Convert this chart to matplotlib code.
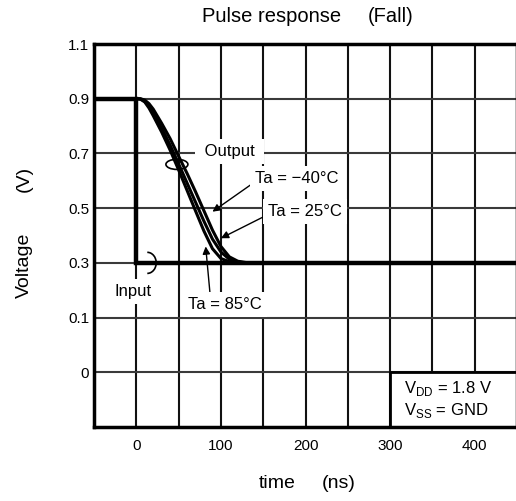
import matplotlib
matplotlib.use("Agg")
import matplotlib.pyplot as plt
from matplotlib.patches import Ellipse, Arc, Rectangle

plt.rcParams['font.family'] = ['Liberation Sans', 'DejaVu Sans']

# input pulse (falls at t = 0)
t_in = [-50, 0, 0, 460]
v_in = [0.9, 0.9, 0.3, 0.3]

# output curves
t_out = [-50, 0, 5, 10, 15, 20, 25, 30, 40, 50, 60, 70, 80, 90, 100, 110, 120, 130, 140, 460]
v_fast = [0.9, 0.9, 0.898, 0.888, 0.866, 0.838, 0.808, 0.778, 0.712, 0.64, 0.565, 0.49, 0.416, 0.352, 0.316, 0.304, 0.3, 0.3, 0.3, 0.3]
v_mid = [0.9, 0.9, 0.899, 0.891, 0.873, 0.848, 0.82, 0.792, 0.73, 0.662, 0.592, 0.522, 0.452, 0.387, 0.34, 0.313, 0.303, 0.3, 0.3, 0.3]
v_slow = [0.9, 0.9, 0.9, 0.895, 0.882, 0.862, 0.836, 0.81, 0.754, 0.69, 0.627, 0.56, 0.49, 0.42, 0.36, 0.322, 0.306, 0.301, 0.3, 0.3]

x_ticks = [0, 100, 200, 300, 400]
y_ticks = [1.1, 0.9, 0.7, 0.5, 0.3, 0.1, -0.1]
y_labels = ['1.1', '0.9', '0.7', '0.5', '0.3', '0.1', '0']

fig = plt.figure(figsize=(5.16, 5.01), dpi=100)
ax = fig.add_axes([94/516, 74/501, 423/516, 383/501])
ax.set_xlim(-50, 450)
ax.set_ylim(-0.3, 1.1)

# grid
for x in range(-50, 451, 50):
    ax.axvline(x, color='#111111', lw=1.5, zorder=1)
for y in y_ticks:
    ax.axhline(y, color='#3a3a3a', lw=1.5, zorder=1)

ax.plot(t_in, v_in, color='black', lw=3.2, zorder=4, solid_joinstyle='miter')
for v in (v_fast, v_mid, v_slow):
    ax.plot(t_out, v, color='black', lw=2.2, zorder=3)

ax.set_xticks(x_ticks)
ax.set_yticks(y_ticks)
ax.set_yticklabels(y_labels)
ax.tick_params(length=0, labelsize=11)
ax.tick_params(axis='x', pad=9)
ax.tick_params(axis='y', pad=3.5)
for s in ax.spines.values():
    s.set_linewidth(2.5)
    s.set_zorder(6)

# loops marking the curves
ax.add_patch(Ellipse((48, 0.66), 26, 0.037, fill=False, lw=1.2, zorder=5))
ax.add_patch(Arc((13, 0.3), 21, 0.077, theta1=-110, theta2=110, lw=1.2, zorder=5))

bb = dict(boxstyle='square,pad=0.3', facecolor='white', edgecolor='none')
ax.text(110, 0.707, ' Output ', ha='center', va='center', fontsize=12, bbox=bb, zorder=7)
ax.text(-3.5, 0.197, 'Input', ha='center', va='center', fontsize=12, bbox=bb, zorder=7)

arr = dict(arrowstyle='-|>', lw=1.0, color='black', mutation_scale=11, shrinkA=0, shrinkB=0)
ax.annotate('Ta = \u221240\u00b0C', xy=(90, 0.487), xytext=(190, 0.608), ha='center', va='center',
            fontsize=12, bbox=bb, zorder=7, arrowprops=dict(arr, relpos=(0.0, 0.3)))
ax.annotate('Ta = 25\u00b0C', xy=(100, 0.39), xytext=(199, 0.487), ha='center', va='center',
            fontsize=12, bbox=bb, zorder=7, arrowprops=dict(arr, relpos=(0.0, 0.3)))
ax.annotate('Ta = 85\u00b0C', xy=(82, 0.36), xytext=(105, 0.146), ha='center', va='center',
            fontsize=12, bbox=bb, zorder=7, arrowprops=dict(arr, relpos=(0.3, 1.0)))

# supply box
ax.add_patch(Rectangle((300, -0.3), 160, 0.2, facecolor='white', edgecolor='black', lw=2.0, zorder=5, clip_on=False))
ax.text(317, -0.16, r'V$_{\mathregular{DD}}$ = 1.8 V', ha='left', va='center', fontsize=12, zorder=7)
ax.text(317, -0.24, r'V$_{\mathregular{SS}}$ = GND', ha='left', va='center', fontsize=12, zorder=7)

fig.text(271.5/516, 1 - 17/501, 'Pulse response', ha='center', va='center', fontsize=14.5)
fig.text(391/516, 1 - 17/501, '(Fall)', ha='center', va='center', fontsize=14.5)
fig.text(24/516, 1 - 265/501, 'Voltage', ha='center', va='center', rotation=90, fontsize=14)
fig.text(24/516, 1 - 179/501, '(V)', ha='center', va='center', rotation=90, fontsize=14)
fig.text(277.5/516, 1 - 484/501, 'time', ha='center', va='center', fontsize=14)
fig.text(338.5/516, 1 - 484/501, '(ns)', ha='center', va='center', fontsize=14)

fig.savefig('out.png', dpi=100)
